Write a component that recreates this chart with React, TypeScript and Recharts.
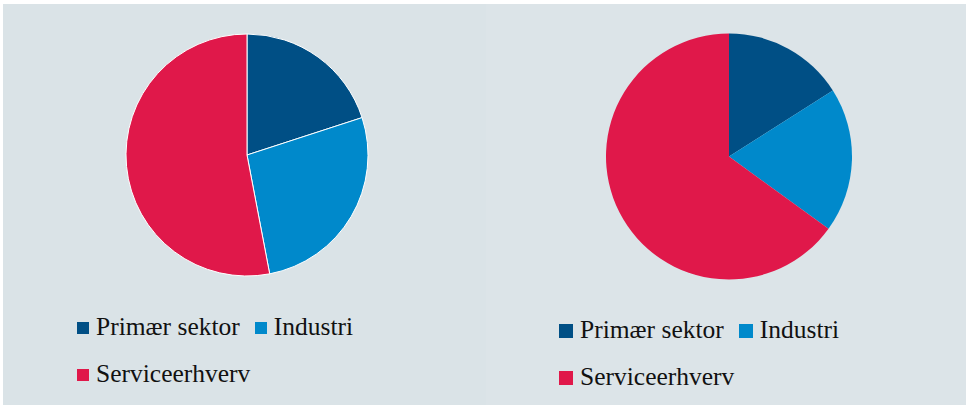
import React from "react";
import { PieChart, Pie, Cell, Legend } from "recharts";

const categories = ["Primær sektor", "Industri", "Serviceerhverv"];
const colors = ["#004f85", "#0089cb", "#e0184a"];
const leftValues = [20, 27, 53];
const rightValues = [16, 19, 65];

const toData = (vals: number[]) => categories.map((name, i) => ({ name, value: vals[i] }));

const makeLegend = (sq: number) => (props: any) => {
  const payload = [...(props.payload || [])].sort(
    (a: any, b: any) => categories.indexOf(a.value) - categories.indexOf(b.value)
  );
  return (
    <div style={{ display: "flex", flexWrap: "wrap", width: 300, fontFamily: "Liberation Serif, Times New Roman, serif", fontSize: 25.5, color: "#111", lineHeight: "47px" }}>
      {payload.map((p: any, i: number) => (
        <div key={i} style={{ display: "inline-flex", alignItems: "center", marginRight: 15 }}>
          <span style={{ display: "inline-block", width: sq, height: sq, background: p.color, marginRight: 7, marginTop: 3 }} />
          <span>{p.value}</span>
        </div>
      ))}
    </div>
  );
};

function SinglePie({ vals, cx, cy, r, stroke, legendLeft, legendTop, sq }: any) {
  return (
    <PieChart width={480} height={401} margin={{ top: 0, right: 0, bottom: 0, left: 0 }}>
      <Pie
        data={toData(vals)}
        dataKey="value"
        nameKey="name"
        cx={cx}
        cy={cy}
        outerRadius={r}
        startAngle={90}
        endAngle={-270}
        stroke={stroke}
        strokeWidth={stroke === "none" ? 0 : 1}
        isAnimationActive={false}
      >
        {vals.map((_: number, i: number) => (
          <Cell key={i} fill={colors[i]} />
        ))}
      </Pie>
      <Legend
        content={makeLegend(sq)}
        itemSorter={null as any}
        wrapperStyle={{ position: "absolute", left: legendLeft, top: legendTop, width: 320, bottom: "auto" }}
      />
    </PieChart>
  );
}

export default function App() {
  return (
    <div style={{ position: "absolute", left: 0, top: 0, width: 966, height: 405, background: "#ffffff", overflow: "hidden" }}>
      <div style={{ position: "absolute", left: 3, top: 4, width: 483, height: 401, background: "#dae3e7" }}>
        <SinglePie vals={leftValues} cx={244} cy={151} r={121} stroke="#ffffff" legendLeft={74} legendTop={299} sq={12} />
      </div>
      <div style={{ position: "absolute", left: 486, top: 4, width: 480, height: 401, background: "#dce4e8" }}>
        <SinglePie vals={rightValues} cx={243} cy={152.5} r={123} stroke="none" legendLeft={73} legendTop={302} sq={14} />
      </div>
    </div>
  );
}
